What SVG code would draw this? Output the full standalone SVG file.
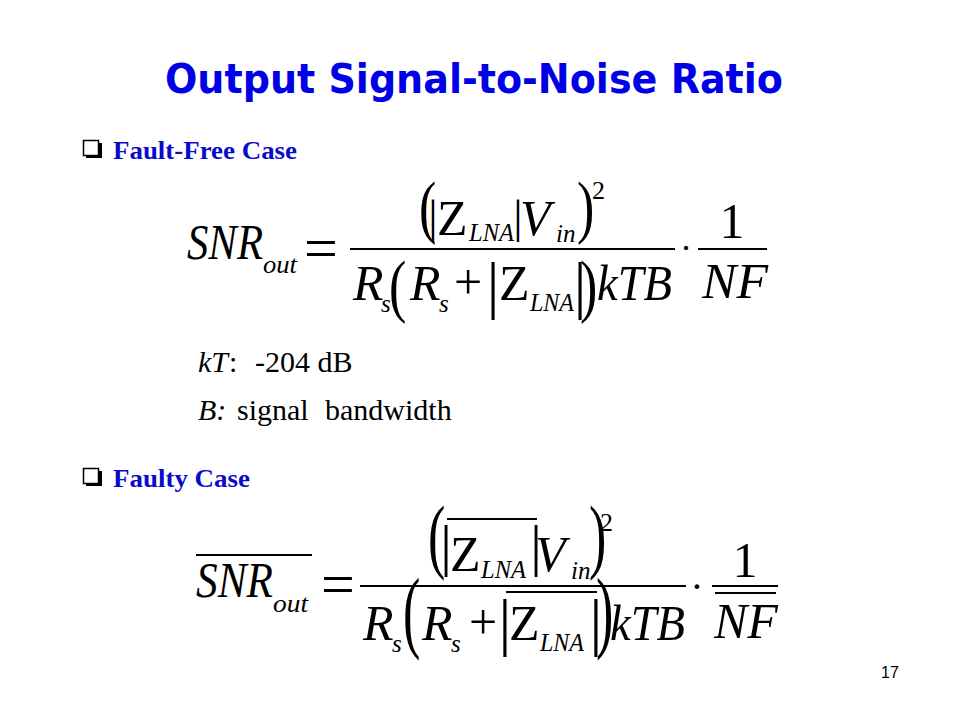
<svg xmlns="http://www.w3.org/2000/svg" width="960" height="720" viewBox="0 0 960 720">
<style>
.ei{font-family:"Liberation Serif","Times New Roman",serif;font-style:italic;font-size:36px;fill:#000}
.eu{font-family:"Liberation Serif","Times New Roman",serif;font-size:36px;fill:#000}
.si{font-family:"Liberation Serif","Times New Roman",serif;font-style:italic;font-size:25px;fill:#000}
.u{font-family:"Liberation Serif","Times New Roman",serif;fill:#000}
.bar{stroke:#000;stroke-width:2}
.hd{font-family:"Liberation Serif","Times New Roman",serif;font-weight:bold;font-size:26px;fill:#0A0ACD}
.bx{fill:none;stroke:#000;stroke-width:1.5}
</style>
<rect width="960" height="720" fill="#fff"/>
<g id="title">
<text x="165" y="93" font-family="'DejaVu Sans',Verdana,sans-serif" font-weight="bold" font-size="40" fill="#0000E6" textLength="618" lengthAdjust="spacingAndGlyphs">Output Signal-to-Noise Ratio</text>
</g>
<g id="bullet-fault-free">
<rect class="bx" x="83.5" y="140.5" width="15" height="15"/>
<path d="M99 143h3v15h-16v-3h13z" fill="#000"/>
<text class="hd" x="113" y="159" textLength="184" lengthAdjust="spacingAndGlyphs">Fault-Free Case</text>
</g>
<g id="formula-fault-free">
<text class="ei" transform="translate(187,259) scale(0.25,1.389)" textLength="304" lengthAdjust="spacingAndGlyphs">SNR</text>
<text class="si" x="263" y="273" textLength="34" lengthAdjust="spacingAndGlyphs">out</text>
<text class="eu" transform="translate(304,268) scale(1.667)">=</text>
<line class="bar" x1="350" y1="249" x2="675" y2="249"/>
<text class="eu" transform="translate(419,230) scale(1.444,1.95)">(</text>
<text class="eu" transform="translate(433,232) scale(1.306)" text-anchor="middle">|</text>
<text class="eu" transform="translate(437,235) scale(0.25,1.389)" textLength="122" lengthAdjust="spacingAndGlyphs">Z</text>
<text class="si" x="469" y="241" textLength="45" lengthAdjust="spacingAndGlyphs">LNA</text>
<text class="eu" transform="translate(518,232) scale(1.306)" text-anchor="middle">|</text>
<text class="ei" transform="translate(520,235) scale(0.25,1.389)" textLength="122" lengthAdjust="spacingAndGlyphs">V</text>
<text class="si" x="556" y="242">in</text>
<text class="eu" transform="translate(577,230) scale(1.444,1.95)">)</text>
<text class="u" font-size="26" x="592" y="199">2</text>
<text class="ei" transform="translate(353,300) scale(0.25,1.389)" textLength="122" lengthAdjust="spacingAndGlyphs">R</text>
<text class="si" x="381" y="312">s</text>
<text class="eu" transform="translate(389,309) scale(1.444,1.95)">(</text>
<text class="ei" transform="translate(410,300) scale(0.25,1.389)" textLength="122" lengthAdjust="spacingAndGlyphs">R</text>
<text class="si" x="439" y="312">s</text>
<text class="eu" transform="translate(454,299) scale(1.389)">+</text>
<text class="eu" transform="translate(493,306) scale(1.75)" text-anchor="middle">|</text>
<text class="eu" transform="translate(499,300) scale(0.25,1.389)" textLength="122" lengthAdjust="spacingAndGlyphs">Z</text>
<text class="si" x="530" y="311" textLength="44" lengthAdjust="spacingAndGlyphs">LNA</text>
<text class="eu" transform="translate(580,306) scale(1.75)" text-anchor="middle">|</text>
<text class="eu" transform="translate(580,309) scale(1.444,1.95)">)</text>
<text class="ei" transform="translate(597,300) scale(0.25,1.389)" textLength="300" lengthAdjust="spacingAndGlyphs">kTB</text>
<text class="u" font-size="36" x="686" y="260" text-anchor="middle">·</text>
<text class="eu" transform="translate(719.5,238) scale(0.25,1.389)" textLength="100" lengthAdjust="spacingAndGlyphs">1</text>
<line class="bar" x1="698" y1="249" x2="767" y2="249"/>
<text class="ei" transform="translate(702,298) scale(0.25,1.389)" textLength="264" lengthAdjust="spacingAndGlyphs">NF</text>
</g>
<g id="notes">
<text class="u" font-size="30" y="372"><tspan x="198" font-style="italic">kT</tspan><tspan x="229">:</tspan><tspan x="255">-204 dB</tspan></text>
<text class="u" font-size="30" y="420"><tspan x="198" font-style="italic">B:</tspan><tspan x="237">signal</tspan><tspan x="325">bandwidth</tspan></text>
</g>
<g id="bullet-faulty">
<rect class="bx" x="83.5" y="468.5" width="15" height="15"/>
<path d="M99 471h3v15h-16v-3h13z" fill="#000"/>
<text class="hd" x="113" y="487" textLength="137" lengthAdjust="spacingAndGlyphs">Faulty Case</text>
</g>
<g id="formula-faulty">
<line class="bar" x1="196" y1="555" x2="312" y2="555"/>
<text class="ei" transform="translate(196,597) scale(1.389)" textLength="55.4" lengthAdjust="spacingAndGlyphs">SNR</text>
<text class="si" x="273" y="612" textLength="35" lengthAdjust="spacingAndGlyphs">out</text>
<text class="eu" transform="translate(321,604) scale(1.667)">=</text>
<line class="bar" x1="360" y1="586" x2="686" y2="586"/>
<text class="eu" transform="translate(428,563) scale(1.444,2.28)">(</text>
<line class="bar" x1="447" y1="519" x2="537" y2="519"/>
<text class="eu" transform="translate(446,565) scale(1.611)" text-anchor="middle">|</text>
<text class="eu" transform="translate(450,571) scale(1.389)">Z</text>
<text class="si" x="481" y="578" textLength="45" lengthAdjust="spacingAndGlyphs">LNA</text>
<text class="eu" transform="translate(536,565) scale(1.611)" text-anchor="middle">|</text>
<text class="ei" transform="translate(535,571) scale(1.389)">V</text>
<text class="si" x="571" y="579">in</text>
<text class="eu" transform="translate(589,563) scale(1.444,2.28)">)</text>
<text class="u" font-size="26" x="600" y="531">2</text>
<text class="ei" transform="translate(363,640) scale(1.389)">R</text>
<text class="si" x="392" y="652">s</text>
<text class="eu" transform="translate(403,641) scale(1.444,2.528)">(</text>
<text class="ei" transform="translate(422,640) scale(1.389)">R</text>
<text class="si" x="451" y="652">s</text>
<text class="eu" transform="translate(469,639) scale(1.389)">+</text>
<line class="bar" x1="506" y1="592" x2="597" y2="592"/>
<text class="eu" transform="translate(505,643) scale(1.778)" text-anchor="middle">|</text>
<text class="eu" transform="translate(509,640) scale(1.389)">Z</text>
<text class="si" x="540" y="651" textLength="44" lengthAdjust="spacingAndGlyphs">LNA</text>
<text class="eu" transform="translate(596,643) scale(1.778)" text-anchor="middle">|</text>
<text class="eu" transform="translate(596,641) scale(1.444,2.528)">)</text>
<text class="ei" transform="translate(610,640) scale(1.389)" textLength="54" lengthAdjust="spacingAndGlyphs">kTB</text>
<text class="eu" transform="translate(697,600) scale(1.111)" text-anchor="middle">·</text>
<text class="eu" transform="translate(745,577) scale(1.389)" text-anchor="middle">1</text>
<line class="bar" x1="712" y1="586" x2="778" y2="586"/>
<line class="bar" x1="715" y1="593" x2="776" y2="593"/>
<text class="ei" transform="translate(714,638) scale(1.389)" textLength="46" lengthAdjust="spacingAndGlyphs">NF</text>
</g>
<g id="page-number">
<text x="881" y="678" font-family="'Liberation Sans',Arial,sans-serif" font-size="16" fill="#000">17</text>
</g>
</svg>
